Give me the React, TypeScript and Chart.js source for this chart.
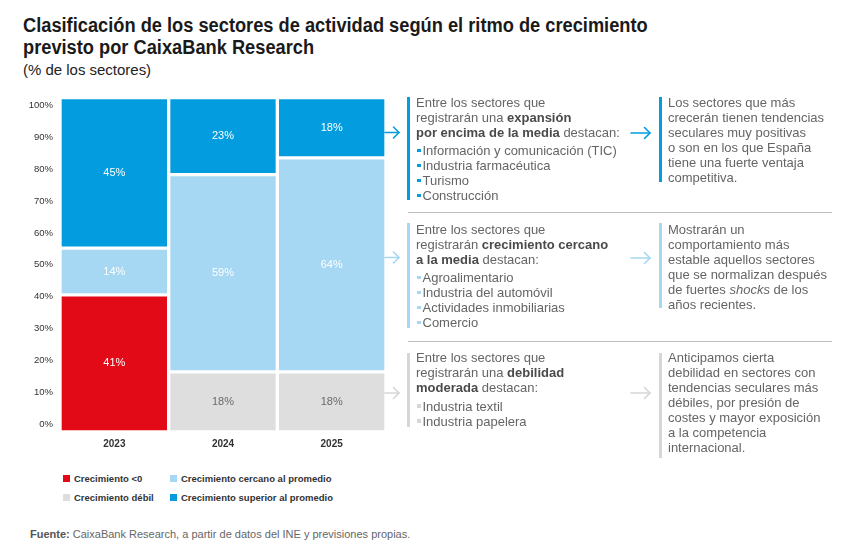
import React, { useEffect, useLayoutEffect, useRef } from "react";
import { Chart, registerables } from "chart.js";

Chart.register(...registerables);

// ---- Data ----
const categories = ["2023", "2024", "2025"];
const seriesNames = [
  "Crecimiento <0",
  "Crecimiento débil",
  "Crecimiento cercano al promedio",
  "Crecimiento superior al promedio",
];
const negativeGrowth = [41, 0, 0];
const weakGrowth = [0, 18, 18];
const nearAverage = [14, 59, 64];
const aboveAverage = [45, 23, 18];
const yTickValues = [0, 10, 20, 30, 40, 50, 60, 70, 80, 90, 100];

const RED = "#e20a17";
const GREY = "#dedede";
const LIGHT = "#a6d7f3";
const BLUE = "#039ddf";

const FONT = "'Liberation Sans', Arial, Helvetica, sans-serif";

const valueLabels = {
  id: "valueLabels",
  afterDatasetsDraw(chart: any) {
    const ctx = chart.ctx;
    chart.data.datasets.forEach((ds: any, i: number) => {
      const meta = chart.getDatasetMeta(i);
      meta.data.forEach((el: any, j: number) => {
        const v = ds.data[j];
        if (!v) return;
        const p = el.getProps(["x", "y", "base"], true);
        ctx.save();
        ctx.fillStyle = ds.labelColor;
        ctx.font = `11px ${FONT}`;
        ctx.textAlign = "center";
        ctx.textBaseline = "middle";
        ctx.fillText(v + "%", p.x, (p.y + p.base) / 2);
        ctx.restore();
      });
    });
  },
};

function BarChart() {
  const ref = useRef<HTMLCanvasElement>(null);
  useEffect(() => {
    if (!ref.current) return;
    const mk = (label: string, data: number[], color: string, labelColor: string) => ({
      label,
      data,
      backgroundColor: color,
      borderColor: "#ffffff",
      borderWidth: 2,
      borderSkipped: false,
      barPercentage: 1,
      categoryPercentage: 1,
      labelColor,
      yAxisID: "y",
    });
    const chart = new Chart(ref.current, {
      type: "bar",
      data: {
        labels: categories,
        datasets: [
          mk(seriesNames[0], negativeGrowth, RED, "#ffffff"),
          mk(seriesNames[1], weakGrowth, GREY, "#6a6a6a"),
          mk(seriesNames[2], nearAverage, LIGHT, "#ffffff"),
          mk(seriesNames[3], aboveAverage, BLUE, "#ffffff"),
        ] as any,
      },
      options: {
        responsive: false,
        animation: false,
        devicePixelRatio: 1,
        layout: { padding: { top: 9, right: 14, left: 0, bottom: 0 } },
        plugins: { legend: { display: false }, tooltip: { enabled: false } },
        scales: {
          x: {
            stacked: true,
            grid: { display: false, drawTicks: false },
            border: { display: false },
            ticks: { color: "#333", font: { family: FONT, size: 10, weight: "bold" }, padding: 6 },
            afterFit: (axis: any) => {
              axis.height = 23;
            },
          },
          y: {
            stacked: true,
            min: 0,
            max: 100,
            display: false,
          },
          yt: {
            type: "linear",
            position: "left",
            min: -2.3,
            max: 102.3,
            grid: { display: false, drawTicks: false },
            border: { display: false },
            afterBuildTicks: (axis: any) => {
              axis.ticks = yTickValues.map((v) => ({ value: v }));
            },
            ticks: {
              color: "#333",
              font: { family: FONT, size: 9.5 },
              padding: 7,
              callback: (v: any) => v + "%",
            },
            afterFit: (axis: any) => {
              axis.width = 60;
            },
          },
        } as any,
      },
      plugins: [valueLabels],
    });
    return () => chart.destroy();
  }, []);
  return (
    <canvas
      ref={ref}
      width={400}
      height={370}
      style={{ position: "absolute", left: 0, top: 85, width: 400, height: 370 }}
    />
  );
}

// Text that is horizontally condensed to a target width (to mimic a condensed typeface)
function FitText({ width, style, children }: any) {
  const ref = useRef<HTMLDivElement>(null);
  useLayoutEffect(() => {
    const el = ref.current;
    if (!el) return;
    el.style.transform = "none";
    const w = el.scrollWidth;
    if (w > 0) el.style.transform = `scaleX(${width / w})`;
  }, [width]);
  return (
    <div
      ref={ref}
      style={{ ...style, position: "absolute", whiteSpace: "nowrap", transformOrigin: "0 0", display: "inline-block" }}
    >
      {children}
    </div>
  );
}

const legendItems = [
  { name: seriesNames[0], color: RED, left: 63, top: 479 },
  { name: seriesNames[2], color: LIGHT, left: 170, top: 479 },
  { name: seriesNames[1], color: GREY, left: 63, top: 498 },
  { name: seriesNames[3], color: BLUE, left: 170, top: 498 },
];

function Bullet({ color, children }: any) {
  return (
    <div style={{ whiteSpace: "nowrap" }}>
      <span
        style={{
          display: "inline-block",
          width: 3.5,
          height: 3.5,
          background: color,
          marginRight: 2,
          marginLeft: 1,
          verticalAlign: "middle",
          position: "relative",
          top: -1,
        }}
      />
      {children}
    </div>
  );
}

const textStyle: any = {
  position: "absolute",
  fontFamily: FONT,
  fontSize: 13,
  lineHeight: "15px",
  color: "#656565",
  whiteSpace: "nowrap",
};

function VBar({ left, top, height, color }: any) {
  return <div style={{ position: "absolute", left, top, width: 3, height, background: color }} />;
}

function Arrow({ x1, x2, y, color }: any) {
  return (
    <g stroke={color} strokeWidth={1.6} fill="none" strokeLinecap="round" strokeLinejoin="round">
      <line x1={x1} y1={y} x2={x2} y2={y} />
      <polyline points={`${x2 - 5.5},${y - 5.5} ${x2},${y} ${x2 - 5.5},${y + 5.5}`} />
    </g>
  );
}

export default function App() {
  const b = { color: "#4a4a4a", fontWeight: "bold" as const };
  return (
    <div
      style={{
        position: "absolute",
        left: 0,
        top: 0,
        width: 856,
        height: 549,
        background: "#fff",
        overflow: "hidden",
        fontFamily: FONT,
      }}
    >
      <FitText
        width={625}
        style={{
          left: 23,
          top: 14,
          fontFamily: FONT,
          fontWeight: "bold",
          fontSize: 20,
          lineHeight: "22px",
          color: "#1a1a1a",
        }}
      >
        Clasificación de los sectores de actividad según el ritmo de crecimiento
        <br />
        previsto por CaixaBank Research
      </FitText>
      <FitText
        width={128}
        style={{
          left: 23,
          top: 61,
          fontFamily: FONT,
          fontSize: 14.5,
          lineHeight: "18px",
          color: "#222",
        }}
      >
        (% de los sectores)
      </FitText>

      <BarChart />

      {legendItems.map((it) => (
        <div
          key={it.name}
          style={{
            position: "absolute",
            left: it.left,
            top: it.top - 6,
            height: 12,
            lineHeight: "12px",
            fontSize: 9.5,
            fontWeight: "bold",
            color: "#333",
            whiteSpace: "nowrap",
            fontFamily: FONT,
          }}
        >
          <span
            style={{
              display: "inline-block",
              width: 7,
              height: 7,
              background: it.color,
              marginRight: 4,
              verticalAlign: "middle",
              position: "relative",
              top: -1,
            }}
          />
          {it.name}
        </div>
      ))}

      <div
        style={{
          position: "absolute",
          left: 30,
          top: 527,
          fontSize: 11,
          lineHeight: "14px",
          color: "#666",
          whiteSpace: "nowrap",
        }}
      >
        <span style={{ fontWeight: "bold", color: "#555" }}>Fuente:</span> CaixaBank Research, a partir de datos del INE y previsiones propias.
      </div>

      {/* Divider lines */}
      <div style={{ position: "absolute", left: 408, top: 211.5, width: 424, height: 1.3, background: "#bdbdbd" }} />
      <div style={{ position: "absolute", left: 408, top: 340.5, width: 424, height: 1.3, background: "#bdbdbd" }} />

      {/* Vertical accent bars */}
      <VBar left={407} top={97} height={103} color={BLUE} />
      <VBar left={659} top={97} height={85} color={BLUE} />
      <VBar left={407} top={223} height={105} color={LIGHT} />
      <VBar left={659} top={223} height={85} color={LIGHT} />
      <VBar left={407} top={353} height={74} color="#d6d6d6" />
      <VBar left={659} top={353} height={105} color="#d6d6d6" />

      <svg width={856} height={549} style={{ position: "absolute", left: 0, top: 0 }}>
        <Arrow x1={385} x2={399} y={132.5} color={BLUE} />
        <Arrow x1={385} x2={399} y={257.5} color={LIGHT} />
        <Arrow x1={385} x2={399} y={393} color="#d6d6d6" />
        <Arrow x1={631} x2={650} y={133} color={BLUE} />
        <Arrow x1={631} x2={650} y={258} color={LIGHT} />
        <Arrow x1={631} x2={650} y={393} color="#d6d6d6" />
      </svg>

      {/* Panel 1 */}
      <div style={{ ...textStyle, left: 416, top: 94.5 }}>
        Entre los sectores que
        <br />
        registrarán una <span style={b}>expansión</span>
        <br />
        <span style={b}>por encima de la media</span> destacan:
        <div style={{ marginTop: 3.5 }}>
          <Bullet color={BLUE}>Información y comunicación (TIC)</Bullet>
          <Bullet color={BLUE}>Industria farmacéutica</Bullet>
          <Bullet color={BLUE}>Turismo</Bullet>
          <Bullet color={BLUE}>Construcción</Bullet>
        </div>
      </div>
      <div style={{ ...textStyle, left: 668, top: 94.5 }}>
        Los sectores que más
        <br />
        crecerán tienen tendencias
        <br />
        seculares muy positivas
        <br />o son en los que España
        <br />
        tiene una fuerte ventaja
        <br />
        competitiva.
      </div>

      {/* Panel 2 */}
      <div style={{ ...textStyle, left: 416, top: 221.5 }}>
        Entre los sectores que
        <br />
        registrarán <span style={b}>crecimiento cercano</span>
        <br />
        <span style={b}>a la media</span> destacan:
        <div style={{ marginTop: 3.5 }}>
          <Bullet color={LIGHT}>Agroalimentario</Bullet>
          <Bullet color={LIGHT}>Industria del automóvil</Bullet>
          <Bullet color={LIGHT}>Actividades inmobiliarias</Bullet>
          <Bullet color={LIGHT}>Comercio</Bullet>
        </div>
      </div>
      <div style={{ ...textStyle, left: 668, top: 221.5 }}>
        Mostrarán un
        <br />
        comportamiento más
        <br />
        estable aquellos sectores
        <br />
        que se normalizan después
        <br />
        de fuertes <i>shocks</i> de los
        <br />
        años recientes.
      </div>

      {/* Panel 3 */}
      <div style={{ ...textStyle, left: 416, top: 349.5 }}>
        Entre los sectores que
        <br />
        registrarán una <span style={b}>debilidad</span>
        <br />
        <span style={b}>moderada</span> destacan:
        <div style={{ marginTop: 4 }}>
          <Bullet color="#d6d6d6">Industria textil</Bullet>
          <Bullet color="#d6d6d6">Industria papelera</Bullet>
        </div>
      </div>
      <div style={{ ...textStyle, left: 668, top: 349.5 }}>
        Anticipamos cierta
        <br />
        debilidad en sectores con
        <br />
        tendencias seculares más
        <br />
        débiles, por presión de
        <br />
        costes y mayor exposición
        <br />a la competencia
        <br />
        internacional.
      </div>
    </div>
  );
}
